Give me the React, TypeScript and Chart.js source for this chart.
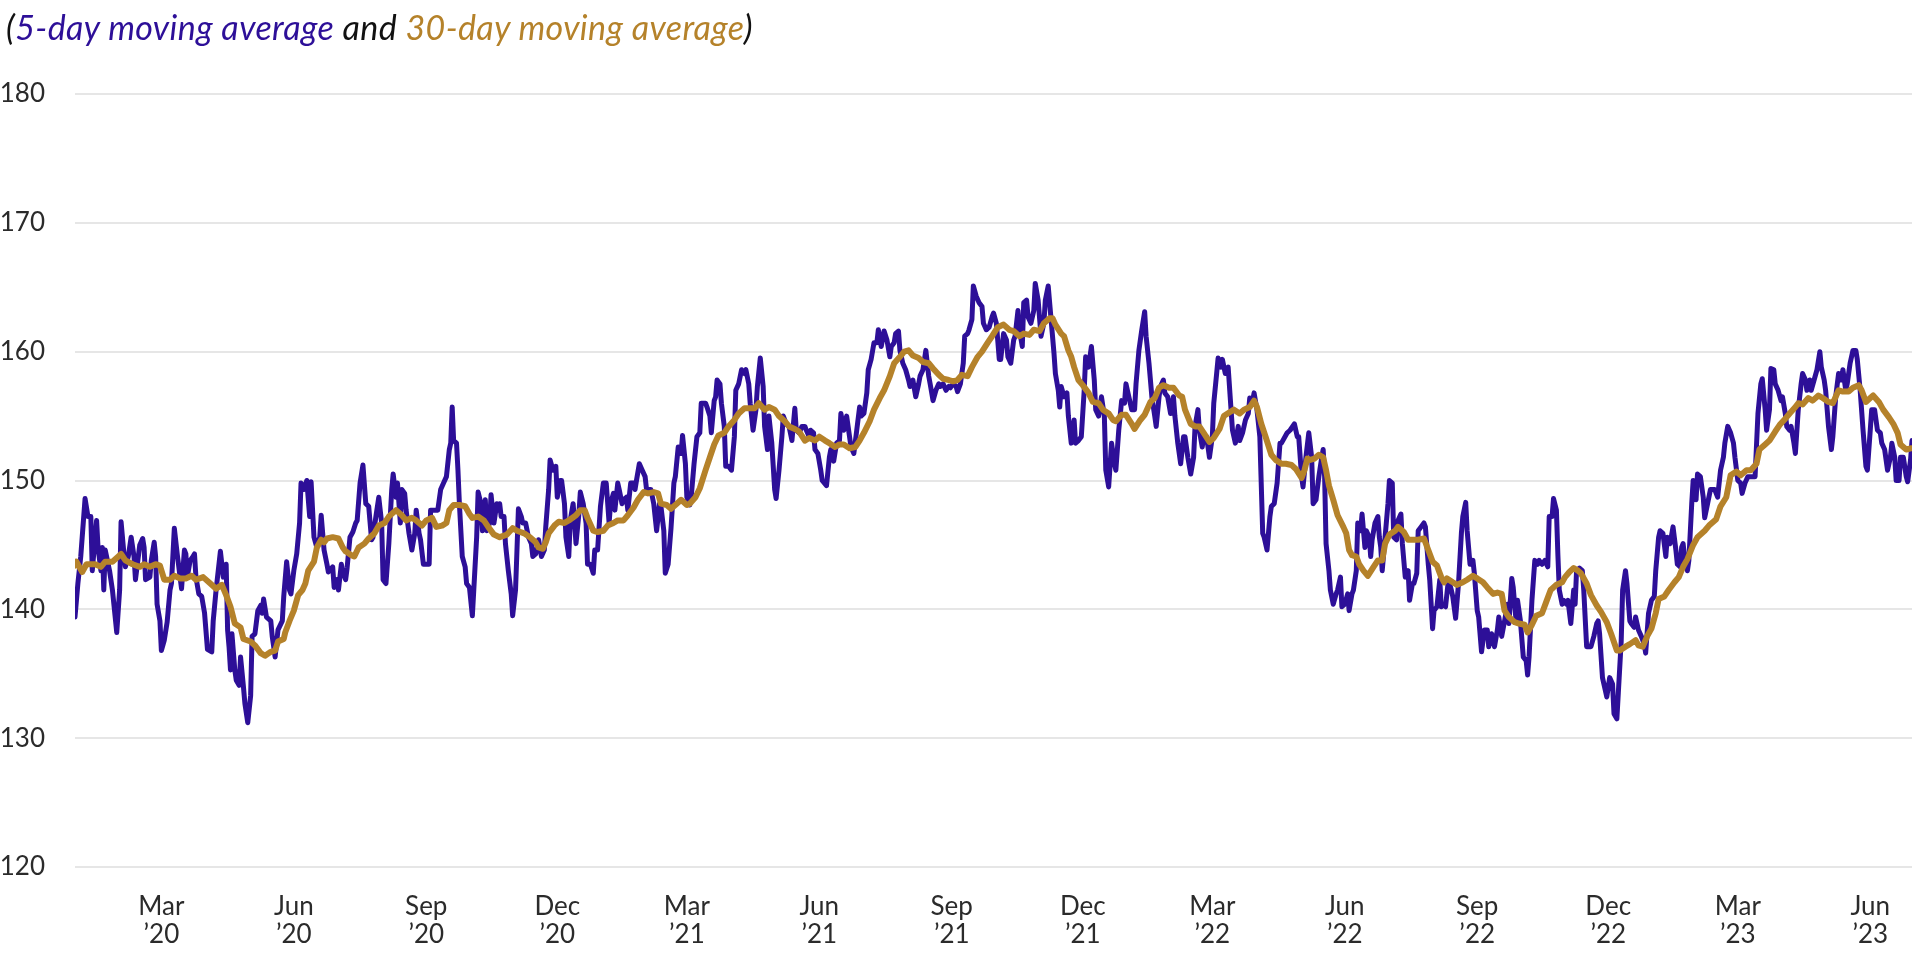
import React, { useEffect, useRef } from "react";
import { Chart, registerables } from "chart.js";

Chart.register(...registerables);

// Days counted from 2020-01-01 (day 0). Values: index level.
const fiveDay2020: [number, number][] = [[0,139.4],[2,142.0],[4,144.1],[7,148.6],[9,147.2],[11,147.2],[12,143.0],[15,146.9],[16,144.8],[18,143.0],[19,144.8],[20,141.5],[21,144.6],[24,143.0],[26,141.5],[29,138.2],[31,141.5],[32,146.8],[34,144.3],[35,143.3],[37,144.1],[39,145.6],[41,144.1],[42,142.3],[45,145.0],[47,145.5],[48,144.8],[49,142.3],[52,142.5],[53,143.8],[55,145.2],[56,144.1],[57,140.4],[59,139.1],[60,136.8],[62,137.6],[64,139.0],[66,141.5],[67,142.0],[69,146.3],[71,144.3],[73,142.5],[74,141.6],[76,144.6],[77,144.3],[78,142.5],[80,143.8],[82,144.1],[83,144.3],[84,142.5],[86,141.2],[88,141.0],[90,139.7],[92,136.9],[95,136.7],[96,139.1],[98,141.5],[101,144.5],[103,142.5],[105,143.5],[106,138.4],[107,137.1],[108,135.3],[109,138.1],[111,135.3],[112,134.5],[114,134.1],[115,136.3],[117,134.0],[118,132.7],[120,131.2],[122,133.3],[123,137.9],[125,138.1],[127,139.9],[129,140.3],[130,139.7],[131,140.8],[133,139.4],[136,139.1],[137,137.9],[139,136.3],[141,138.4],[144,139.1],[145,141.0],[147,143.7],[149,141.5],[150,141.2],[152,143.0],[154,144.3],[156,146.7],[157,149.8],[159,149.3],[161,150.0],[163,147.2],[164,149.9],[166,145.6],[168,144.8],[170,145.6],[171,147.3],[173,144.6],[175,143.5],[176,142.9],[179,143.3],[180,141.7],[182,142.3],[183,141.5],[185,143.5],[186,142.9],[188,142.3],[189,143.2],[191,145.6],[193,146.0],[195,146.7],[196,146.9],[198,149.8],[200,151.2],[202,148.2],[204,148.0],[206,145.4],[207,145.6],[209,147.2],[211,148.7],[213,146.7],[214,142.3],[216,142.0],[218,145.1],[220,149.3],[221,150.5],[223,148.7],[224,149.8],[226,146.7],[227,149.3],[229,149.0],[230,147.7],[232,145.9],[234,144.6],[236,145.9],[237,147.7],[239,145.9],[240,145.4],[242,143.5],[246,143.5],[247,147.7],[252,147.7],[254,149.3],[256,149.8],[258,150.3],[260,152.4],[261,152.9],[262,155.7],[263,153.1],[265,152.9],[266,150.8],[267,148.2],[269,144.1],[271,143.3],[272,142.0],[274,141.7],[276,139.5],[277,141.5],[279,145.6],[280,149.1],[282,148.2],[283,146.1],[285,148.5],[286,146.1],[288,146.7],[289,148.9],[291,146.7],[293,148.2],[294,147.7],[295,148.2],[296,147.2],[298,147.2],[299,145.1],[301,143.0],[303,141.2],[304,139.5],[306,141.5],[307,144.6],[308,147.8],[310,147.2],[311,146.7],[313,146.7],[315,145.6],[317,145.1],[318,144.1],[320,144.3],[322,145.4],[324,144.1],[326,144.6],[327,146.4],[329,149.3],[330,151.6],[332,150.8],[334,151.1],[335,148.7],[337,150.0],[338,150.0],[340,148.2],[341,145.6],[343,144.1],[344,146.9],[346,148.2],[347,146.7],[348,145.1],[350,147.4],[351,149.1],[353,148.2],[355,146.7],[356,143.5],[358,143.5],[360,142.8],[361,144.6],[363,144.6],[365,148.0]];

const fiveDay2021: [number, number][] = [[367,149.8],[369,149.8],[371,146.7],[372,148.2],[374,149.0],[375,147.7],[377,149.8],[378,149.3],[380,148.2],[381,148.5],[383,148.7],[384,147.7],[386,149.8],[388,149.8],[389,149.3],[390,150.0],[392,151.3],[394,150.8],[396,150.3],[397,149.3],[400,149.3],[402,148.2],[404,146.1],[406,148.2],[407,148.0],[409,146.1],[410,142.8],[412,143.5],[414,146.3],[416,149.8],[417,150.3],[419,152.6],[421,152.1],[422,153.5],[424,151.3],[425,148.7],[427,148.1],[428,148.7],[430,151.3],[432,153.4],[434,153.7],[435,156.0],[438,156.0],[439,155.7],[441,155.0],[442,153.7],[444,156.2],[445,156.5],[446,157.8],[448,157.5],[449,156.0],[451,154.2],[452,151.1],[454,151.1],[456,150.8],[458,153.4],[459,157.0],[461,157.5],[463,158.6],[465,158.3],[466,158.6],[468,157.5],[469,156.0],[471,153.9],[473,155.5],[474,157.3],[476,159.5],[478,157.3],[479,154.2],[481,152.4],[482,155.0],[484,152.9],[486,149.3],[487,148.6],[489,150.8],[491,153.4],[492,155.0],[494,154.4],[496,154.2],[498,153.1],[500,155.6],[501,153.9],[503,153.7],[505,154.2],[507,154.2],[508,153.9],[510,153.4],[511,153.9],[513,153.7],[514,152.4],[516,152.1],[518,150.8],[519,150.0],[522,149.6],[524,151.8],[525,152.4],[527,151.5],[529,152.9],[531,153.1],[532,155.2],[534,153.9],[536,155.0],[538,153.4],[539,152.6],[541,152.1],[543,153.9],[545,155.7],[546,155.0],[548,155.2],[550,156.8],[551,158.6],[553,159.4],[555,160.7],[557,160.7],[558,161.7],[560,160.4],[562,161.6],[564,160.9],[566,159.6],[567,160.4],[569,160.7],[570,161.4],[572,161.6],[573,160.1],[575,159.1],[577,158.6],[579,157.8],[580,157.3],[582,157.8],[584,156.5],[586,157.5],[587,158.1],[589,158.6],[591,160.1],[593,158.1],[594,157.5],[596,156.2],[598,157.0],[600,157.5],[601,157.3],[603,157.5],[605,157.0],[607,157.3],[608,157.2],[610,157.5],[612,157.3],[613,156.9],[615,157.5],[617,159.1],[618,161.2],[620,161.4],[621,161.7],[623,162.5],[624,165.1],[626,164.3],[628,163.8],[630,163.5],[631,162.2],[633,161.7],[635,161.9],[637,162.7],[638,163.0],[640,162.2],[642,159.4],[643,159.4],[645,161.4],[647,160.9],[648,159.6],[650,159.1],[652,160.9],[653,161.2],[655,163.2],[656,161.7],[658,160.4],[659,163.8],[661,164.0],[662,162.7],[664,162.2],[666,163.2],[667,165.3],[669,164.0],[671,161.2],[673,162.2],[674,164.0],[676,165.1],[678,162.5],[680,159.9],[681,158.3],[683,157.0],[684,155.7],[685,157.3],[687,156.5],[689,156.8],[690,155.0],[692,152.9],[694,154.7],[695,152.9],[697,153.1],[699,153.4],[701,157.0],[702,159.6],[704,158.8],[706,160.4],[708,157.8],[709,155.5],[711,155.0],[713,156.5],[715,155.0],[716,150.8],[718,149.5],[720,152.9],[722,151.3],[723,150.8],[725,153.9],[727,156.2],[729,156.0],[730,157.5]];

const fiveDay2022: [number, number][] = [[732,156.5],[734,155.5],[736,155.5],[737,157.5],[739,160.1],[741,161.7],[743,163.1],[744,161.2],[746,159.1],[748,156.5],[750,155.0],[751,154.2],[753,156.5],[754,157.3],[756,157.8],[757,156.8],[759,156.5],[761,155.2],[763,156.5],[764,155.0],[766,152.9],[768,151.3],[770,153.4],[771,153.4],[773,151.8],[775,150.5],[777,151.8],[778,154.2],[780,155.5],[781,153.9],[783,152.6],[784,153.4],[786,153.4],[788,151.8],[790,153.4],[791,156.0],[793,158.3],[794,159.5],[796,158.8],[797,159.4],[799,158.3],[801,158.8],[803,155.5],[804,153.9],[806,152.9],[808,154.2],[809,153.1],[811,153.7],[813,154.7],[815,155.2],[816,156.4],[818,156.2],[819,156.8],[821,155.5],[823,153.4],[825,145.9],[826,145.6],[828,144.6],[830,147.2],[831,148.0],[833,148.2],[835,149.8],[837,152.9],[838,152.9],[842,153.7],[844,153.9],[847,154.4],[849,153.4],[850,153.4],[852,150.3],[853,149.5],[855,151.8],[857,153.7],[859,151.8],[860,148.2],[862,148.5],[864,150.3],[866,151.8],[867,152.4],[868,150.3],[869,145.1],[871,143.0],[872,141.5],[874,140.4],[876,141.2],[877,141.5],[879,142.5],[880,140.2],[882,140.4],[884,141.2],[885,139.9],[887,141.2],[888,141.5],[890,143.0],[891,146.7],[893,146.1],[894,147.4],[896,144.8],[897,146.1],[899,145.6],[900,144.1],[901,145.4],[903,146.7],[905,147.2],[906,145.6],[907,144.8],[908,143.0],[910,145.6],[912,148.2],[913,150.0],[915,149.8],[916,145.6],[918,145.4],[919,146.9],[921,147.4],[922,145.1],[924,142.5],[926,143.0],[927,140.7],[929,142.0],[930,142.0],[932,142.8],[933,146.1],[935,146.4],[937,146.7],[938,146.4],[940,143.5],[941,142.3],[943,138.5],[944,139.9],[946,140.2],[948,142.3],[949,140.2],[950,140.4],[952,140.2],[954,142.3],[956,141.5],[957,141.0],[959,139.3],[961,142.0],[963,145.9],[964,147.2],[966,148.3],[967,146.1],[969,143.5],[971,143.8],[972,142.8],[974,139.9],[975,139.4],[977,136.7],[979,138.4],[981,138.4],[982,137.1],[984,138.1],[986,137.1],[988,138.4],[989,139.4],[991,137.9],[993,139.1],[995,140.4],[996,138.9],[998,142.4],[999,141.7],[1001,139.1],[1002,140.7],[1004,139.1],[1006,136.3],[1008,136.0],[1009,134.9],[1010,136.3],[1012,140.7],[1014,143.8],[1016,143.5],[1017,143.8],[1019,143.5],[1021,143.8],[1023,143.3],[1024,147.2],[1026,147.2],[1027,148.6],[1029,147.7],[1030,144.3],[1031,141.5],[1033,140.4],[1034,140.7],[1036,140.4],[1037,140.7],[1039,138.9],[1041,141.5],[1042,140.4],[1043,143.0],[1045,143.2],[1047,143.0],[1048,141.5],[1050,137.1],[1053,137.1],[1055,137.9],[1057,138.9],[1058,139.1],[1059,138.1],[1061,134.7],[1063,133.7],[1064,133.2],[1066,134.7],[1068,134.2],[1069,131.9],[1071,131.5],[1072,133.5],[1074,137.5],[1075,141.5],[1077,143.0],[1078,142.0],[1080,139.1],[1081,138.9],[1083,138.6],[1084,139.4],[1086,138.4],[1088,137.9],[1090,137.3],[1091,136.6],[1093,139.7],[1095,140.7]];

const fiveDay2023: [number, number][] = [[1097,141.0],[1098,143.0],[1100,145.6],[1101,146.1],[1103,145.9],[1105,144.1],[1106,145.6],[1108,145.1],[1110,146.4],[1112,144.6],[1113,143.5],[1115,143.3],[1116,144.8],[1117,145.1],[1118,144.1],[1120,143.0],[1121,143.8],[1123,148.2],[1124,150.0],[1126,148.5],[1127,150.5],[1129,150.3],[1131,148.7],[1132,147.1],[1134,148.2],[1136,149.3],[1139,149.3],[1141,148.7],[1143,150.8],[1145,151.8],[1146,152.9],[1148,154.2],[1150,153.7],[1152,152.9],[1153,151.8],[1155,150.0],[1157,149.8],[1158,149.0],[1160,149.8],[1162,150.3],[1167,150.3],[1169,155.2],[1171,157.5],[1172,157.9],[1174,155.5],[1175,153.9],[1177,155.5],[1178,158.7],[1180,158.6],[1181,157.5],[1183,157.0],[1185,156.2],[1186,156.5],[1188,155.2],[1189,154.2],[1191,153.9],[1192,154.2],[1194,152.9],[1195,152.1],[1197,155.5],[1199,157.5],[1200,158.3],[1202,157.8],[1203,157.0],[1205,157.8],[1206,157.0],[1208,157.8],[1210,158.6],[1212,160.0],[1213,158.8],[1215,157.8],[1216,157.0],[1218,154.2],[1220,152.4],[1221,153.4],[1223,156.5],[1225,158.3],[1227,157.8],[1228,158.6],[1230,157.0],[1231,157.5],[1233,159.1],[1235,160.1],[1237,160.1],[1238,159.4],[1240,157.0],[1242,153.9],[1244,151.1],[1245,150.8],[1247,153.9],[1248,155.5],[1250,155.5],[1252,153.9],[1254,153.7],[1255,152.9],[1257,152.4],[1259,150.8],[1261,151.8],[1262,152.9],[1264,151.8],[1265,150.0],[1267,150.0],[1268,151.8],[1270,151.8],[1272,150.3],[1273,149.9],[1275,151.6],[1276,153.1]];

const thirtyDay2020: [number, number][] = [[0,143.4],[1,143.7],[5,142.9],[8,143.5],[14,143.5],[18,143.3],[21,143.7],[26,143.7],[32,144.3],[35,143.8],[40,143.5],[45,143.3],[48,143.5],[52,143.3],[56,143.5],[59,143.4],[62,142.3],[66,142.3],[69,142.6],[73,142.4],[77,142.4],[81,142.6],[84,142.3],[89,142.5],[94,142.0],[98,141.6],[102,141.9],[105,141.1],[108,140.2],[111,138.9],[115,138.6],[117,137.7],[122,137.5],[125,137.2],[129,136.6],[132,136.4],[136,136.7],[139,136.8],[141,137.5],[145,137.7],[146,138.2],[149,139.1],[152,139.9],[155,141.1],[158,141.5],[160,142.0],[162,143.0],[166,143.7],[168,144.8],[171,145.4],[173,145.2],[175,145.5],[179,145.6],[183,145.5],[186,144.8],[188,144.5],[192,144.2],[194,144.1],[197,144.8],[201,145.1],[204,145.5],[208,145.9],[211,146.5],[215,146.7],[218,147.2],[223,147.7],[227,147.3],[230,146.9],[234,147.1],[237,146.9],[241,146.5],[244,146.9],[248,147.1],[251,146.4],[255,146.5],[258,146.7],[260,147.7],[263,148.1],[267,148.1],[271,148.0],[274,147.4],[276,147.1],[280,147.2],[284,146.9],[287,146.4],[291,145.8],[295,145.6],[300,145.8],[304,146.3],[307,146.1],[312,145.9],[316,145.6],[320,145.2],[322,144.8],[325,144.7],[327,145.2],[329,145.9],[333,146.5],[336,146.8],[340,146.7],[343,146.9],[348,147.3],[351,147.7],[354,147.7],[356,147.1],[360,146.1],[363,146.0]];

const thirtyDay2021: [number, number][] = [[367,146.1],[370,146.5],[374,146.7],[377,146.9],[381,146.9],[384,147.3],[388,147.9],[391,148.5],[395,149.1],[398,149.0],[402,149.1],[405,149.0],[407,148.2],[411,148.1],[414,147.8],[418,148.2],[421,148.5],[425,148.1],[427,148.2],[431,148.7],[434,149.4],[438,150.8],[441,151.8],[444,152.8],[447,153.5],[451,153.7],[454,154.2],[458,154.7],[461,155.2],[465,155.6],[468,155.6],[472,155.6],[475,156.0],[479,155.5],[482,155.7],[486,155.5],[489,155.0],[493,154.6],[496,154.2],[500,154.0],[503,153.8],[507,153.1],[510,153.3],[514,153.1],[517,153.4],[521,153.1],[524,152.9],[528,152.6],[531,152.8],[534,152.8],[538,152.5],[542,152.6],[545,153.1],[548,153.7],[552,154.6],[555,155.5],[559,156.4],[562,157.0],[566,158.1],[569,159.1],[573,159.6],[576,160.0],[579,160.1],[582,159.7],[586,159.5],[589,159.2],[593,159.1],[596,158.7],[600,158.2],[603,157.9],[607,157.8],[610,157.7],[613,157.8],[616,158.2],[620,158.1],[623,158.8],[627,159.6],[630,160.0],[634,160.7],[637,161.2],[641,161.9],[645,162.1],[649,161.7],[652,161.6],[656,161.2],[659,161.4],[663,161.3],[666,161.7],[670,161.6],[673,162.2],[677,162.6],[679,162.6],[681,162.1],[685,161.4],[687,161.2],[690,160.1],[692,159.6],[694,158.8],[697,157.8],[700,157.4],[704,156.8],[707,156.1],[711,156.0],[714,155.5],[718,155.2],[721,154.7],[723,154.6],[727,155.1],[730,155.1]];

const thirtyDay2022: [number, number][] = [[734,154.4],[736,154.0],[740,154.7],[743,155.1],[747,156.1],[750,156.4],[753,157.2],[756,157.4],[760,157.2],[763,157.2],[767,156.6],[769,156.5],[771,155.5],[775,154.4],[778,154.2],[781,154.2],[784,153.7],[788,153.0],[791,153.3],[795,154.0],[798,155.0],[802,155.3],[805,155.5],[809,155.2],[812,155.5],[816,155.7],[819,156.2],[821,155.7],[824,154.4],[827,153.4],[831,152.0],[834,151.6],[838,151.3],[841,151.3],[845,151.2],[848,150.9],[852,150.2],[854,150.8],[856,151.7],[858,151.6],[861,151.7],[864,152.0],[867,151.8],[869,150.8],[871,149.6],[874,148.5],[877,147.3],[881,146.4],[883,145.9],[885,144.6],[887,144.2],[890,144.1],[892,143.5],[895,143.0],[898,142.6],[902,143.3],[905,143.8],[908,143.8],[910,145.1],[913,145.8],[917,146.1],[919,146.4],[923,146.0],[926,145.4],[930,145.4],[933,145.4],[937,145.5],[940,144.6],[943,143.7],[946,143.4],[949,142.5],[951,142.1],[953,142.4],[957,142.1],[960,141.9],[964,142.1],[967,142.3],[971,142.6],[974,142.4],[978,142.1],[981,141.7],[985,141.2],[988,141.3],[991,141.2],[993,139.9],[996,139.4],[1000,139.0],[1003,138.9],[1007,138.8],[1009,138.2],[1012,138.8],[1015,139.5],[1019,139.7],[1022,140.6],[1025,141.5],[1029,141.9],[1033,142.1],[1035,142.5],[1038,142.9],[1041,143.2],[1044,143.0],[1046,142.8],[1050,142.0],[1053,141.1],[1057,140.3],[1060,139.8],[1064,139.0],[1067,138.1],[1071,136.8],[1073,136.8],[1077,137.1],[1080,137.3],[1084,137.6],[1086,137.2],[1089,137.1],[1092,137.9],[1095,138.5]];

const thirtyDay2023: [number, number][] = [[1098,139.7],[1100,140.8],[1104,141.0],[1107,141.5],[1111,142.1],[1114,142.5],[1117,143.3],[1120,143.9],[1124,145.0],[1127,145.6],[1132,146.1],[1135,146.5],[1140,147.0],[1143,148.0],[1147,148.7],[1150,150.4],[1154,150.7],[1157,150.4],[1161,150.8],[1164,150.8],[1168,151.3],[1170,152.4],[1174,152.8],[1177,153.1],[1181,153.8],[1184,154.3],[1188,154.8],[1191,155.2],[1195,155.7],[1197,156.0],[1200,155.9],[1204,156.4],[1207,156.2],[1211,156.6],[1214,156.4],[1218,156.1],[1221,156.0],[1225,157.0],[1228,156.9],[1232,156.9],[1235,157.2],[1239,157.4],[1241,157.0],[1244,156.1],[1247,156.4],[1249,156.6],[1253,156.1],[1256,155.5],[1260,154.9],[1263,154.4],[1266,153.7],[1268,152.8],[1272,152.4],[1275,152.5],[1276,152.5]];

// Quarterly tick positions (first of month, days since 2020-01-01)
const tickDays = [60, 152, 244, 335, 425, 517, 609, 700, 790, 882, 974, 1065, 1155, 1247];
const tickMonths = ["Mar", "Jun", "Sep", "Dec", "Mar", "Jun", "Sep", "Dec", "Mar", "Jun", "Sep", "Dec", "Mar", "Jun"];
const tickYears = ["\u201920", "\u201920", "\u201920", "\u201920", "\u201921", "\u201921", "\u201921", "\u201921", "\u201922", "\u201922", "\u201922", "\u201922", "\u201923", "\u201923"];

const yTicks = [120, 130, 140, 150, 160, 170, 180];
const dayMin = 0;
const dayMax = 1276;

const BLUE = "#2d0f98";
const GOLD = "#b5822a";
const FONT = "Lato, 'Open Sans', sans-serif";

export default function App() {
  const ref = useRef<HTMLCanvasElement | null>(null);

  useEffect(() => {
    document.body.style.margin = "0";
    const canvas = ref.current;
    if (!canvas) return;
    const toXY = (arr: [number, number][]) => arr.map(([x, y]) => ({ x, y }));
    const fiveDay = [...fiveDay2020, ...fiveDay2021, ...fiveDay2022, ...fiveDay2023];
    const thirtyDay = [...thirtyDay2020, ...thirtyDay2021, ...thirtyDay2022, ...thirtyDay2023];

    const chart = new Chart(canvas, {
      type: "line",
      data: {
        datasets: [
          {
            label: "30-day moving average",
            data: toXY(thirtyDay),
            borderColor: GOLD,
            borderWidth: 6,
            pointRadius: 0,
            tension: 0,
            borderJoinStyle: "round",
            borderCapStyle: "round",
          },
          {
            label: "5-day moving average",
            data: toXY(fiveDay),
            borderColor: BLUE,
            borderWidth: 5,
            pointRadius: 0,
            tension: 0,
            borderJoinStyle: "round",
            borderCapStyle: "round",
          },
        ],
      },
      options: {
        responsive: false,
        animation: false,
        layout: { padding: { top: 94, right: 8, left: 0, bottom: 0 } },
        plugins: { legend: { display: false }, tooltip: { enabled: false } },
        scales: {
          x: {
            type: "linear",
            min: dayMin,
            max: dayMax,
            grid: { display: false, drawTicks: false },
            border: { display: false },
            afterBuildTicks: (scale: any) => {
              scale.ticks = tickDays.map((v) => ({ value: v }));
            },
            afterFit: (scale: any) => {
              scale.height = 93;
            },
            ticks: {
              autoSkip: false,
              maxRotation: 0,
              padding: 25,
              color: "#2b2b2b",
              font: { family: FONT, size: 26, lineHeight: 1.1 },
              callback: (v: any) => {
                const i = tickDays.indexOf(Number(v));
                return i >= 0 ? [tickMonths[i], tickYears[i]] : "";
              },
            },
          },
          y: {
            min: yTicks[0],
            max: yTicks[yTicks.length - 1],
            afterBuildTicks: (scale: any) => {
              scale.ticks = yTicks.map((v) => ({ value: v }));
            },
            afterFit: (scale: any) => {
              scale.width = 75;
            },
            grid: { color: "#e6e6e6", lineWidth: 2, drawTicks: false },
            border: { display: false },
            ticks: {
              padding: 30,
              color: "#2b2b2b",
              font: { family: FONT, size: 26 },
            },
          },
        },
      },
    });
    return () => chart.destroy();
  }, []);

  return (
    <div style={{ position: "relative", width: 1920, height: 960, background: "#fff" }}>
      <canvas ref={ref} width={1920} height={960} style={{ display: "block" }} />
      <div
        style={{
          position: "absolute",
          left: 6,
          top: 9,
          fontFamily: FONT,
          fontStyle: "italic",
          fontSize: 34,
          letterSpacing: "0.4px",
          lineHeight: "36px",
          color: "#111",
          whiteSpace: "nowrap",
        }}
      >
        (<span style={{ color: BLUE }}>5-day moving average</span> and{" "}
        <span style={{ color: GOLD }}>30-day moving average</span>)
      </div>
    </div>
  );
}
